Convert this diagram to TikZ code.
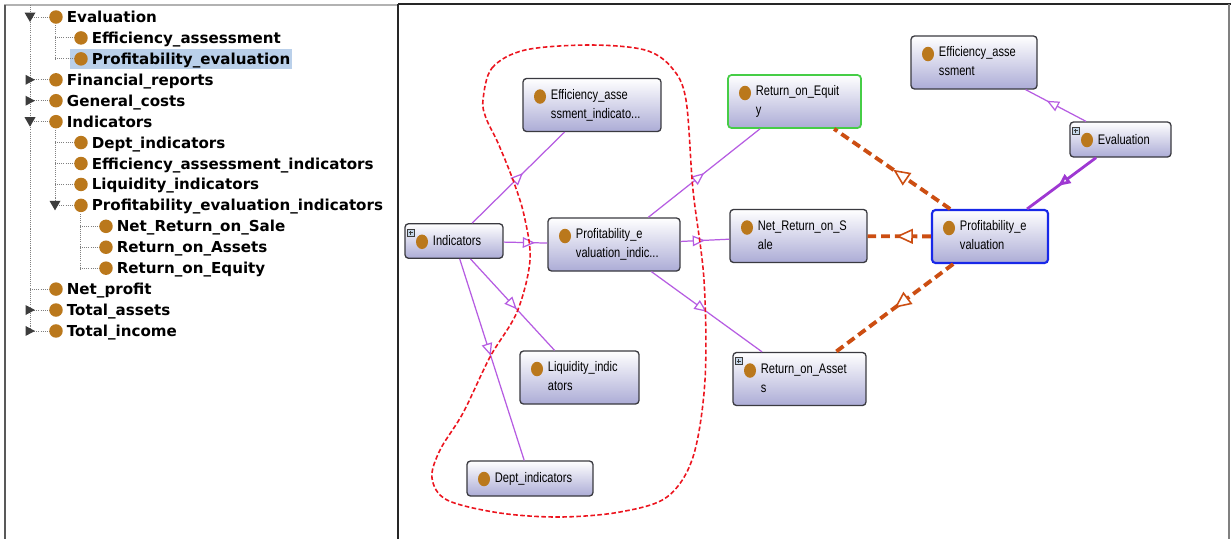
\documentclass[tikz,border=0pt]{standalone}
\usepackage{fontspec}
\setmainfont{Liberation Sans}
\newfontfamily\treefont{DejaVu Sans}
\newfontfamily\graffont[FakeStretch=0.8]{Liberation Sans}
\usetikzlibrary{arrows.meta,decorations.markings}

\definecolor{dotbrown}{RGB}{186,120,28}
\definecolor{boxlav}{RGB}{172,172,214}
\definecolor{boxedge}{RGB}{58,58,64}
\definecolor{isapurple}{RGB}{182,92,226}
\definecolor{evalpurple}{RGB}{158,56,210}
\definecolor{relorange}{RGB}{204,78,18}
\definecolor{selblue}{RGB}{186,208,234}
\definecolor{roegreen}{RGB}{70,205,70}
\definecolor{peblue}{RGB}{24,40,232}
\definecolor{groupred}{RGB}{236,20,30}
\definecolor{treegray}{RGB}{60,60,60}
\definecolor{plusfill}{RGB}{196,214,232}

% labels of the graph boxes
\newcommand\lbl[2]{\hspace*{15.9pt}\begin{tabular}{@{}l@{}}#1\\#2\end{tabular}}
\newcommand\lbll[1]{\hspace*{15.9pt}#1}
% small expand sign in the corner of a box
\newcommand\plusicon[1]{%
  \draw[plusbox] ([shift={(3,6)}]#1.north west) rectangle ++(7,7);
  \draw[treegray, line width=0.5pt] ([shift={(4.5,9.5)}]#1.north west) -- ++(4,0);
  \draw[treegray, line width=0.5pt] ([shift={(6.5,7.5)}]#1.north west) -- ++(0,4);}

\tikzset{
  cls/.style={draw=boxedge, line width=0.75pt, rounded corners=2pt,
    top color=white, bottom color=boxlav, inner sep=0pt,
    text width=#1, align=left, minimum height=1.06cm,
    font=\graffont\fontsize{7.9}{10.8}\selectfont,
    path picture={\fill[dotbrown] ([shift={(17,18)}]path picture bounding box.north west)
      ellipse [x radius=0.12cm, y radius=0.145cm];}},
  isa/.style={draw=isapurple, line width=0.7pt, postaction={decorate},
    decoration={markings, mark=at position #1 with
      {\arrow{Triangle[open, fill=white, length=7pt, width=6pt]}}}},
  isa/.default=0.5,
  rel/.style={draw=relorange, line width=2.2pt, dash pattern=on 5pt off 2.8pt,
    postaction={decorate},
    decoration={markings, mark=at position #1 with
      {\arrow{Triangle[open, fill=white, length=9.5pt, width=8.5pt, line width=0.9pt]}}}},
  rel/.default=0.5,
  groupline/.style={draw=groupred, line width=0.9pt, dash pattern=on 2.6pt off 1.4pt},
  treeline/.style={draw=gray, line width=0.5pt, dash pattern=on 0.6pt off 0.6pt},
  treetext/.style={anchor=base west, inner sep=0pt,
    font=\treefont\bfseries\fontsize{8.6}{10}\selectfont},
  plusbox/.style={draw=treegray, fill=plusfill, line width=0.5pt}
}

\begin{document}
\begin{tikzpicture}[x=0.02cm, y=-0.02cm]
\useasboundingbox (0,0) rectangle (1231,539);
\fill[white] (0,0) rectangle (1231,539);

% panel frames
\draw[gray!60, line width=0.6pt] (4,5) -- (398,5);
\draw[gray!70!black, line width=0.9pt] (5,5) -- (5,539);
\draw[black!85, line width=1.2pt] (398,4) -- (1231,4);
\draw[black!85, line width=1.5pt] (398,4) -- (398,539);
\draw[gray, line width=0.6pt] (1229,4) -- (1229,539);

% class tree
\fill[selblue] (70,49) rectangle (292,69);
\draw[treeline] (30,5) -- (30,332);
\draw[treeline] (55,25) -- (55,59);
\draw[treeline] (55,130) -- (55,206);
\draw[treeline] (80,214) -- (80,269);
\foreach \i/\lev/\tog/\txt in {0/0/1/Evaluation, 1/1/0/Efficiency\_assessment,
    2/1/0/Profitability\_evaluation, 3/0/2/Financial\_reports, 4/0/2/General\_costs,
    5/0/1/Indicators, 6/1/0/Dept\_indicators, 7/1/0/Efficiency\_assessment\_indicators,
    8/1/0/Liquidity\_indicators, 9/1/1/Profitability\_evaluation\_indicators,
    10/2/0/Net\_Return\_on\_Sale, 11/2/0/Return\_on\_Assets, 12/2/0/Return\_on\_Equity,
    13/0/0/Net\_profit, 14/0/2/Total\_assets, 15/0/2/Total\_income} {
  \pgfmathsetmacro\ty{17+20.93*\i}
  \pgfmathsetmacro\tx{30+25*\lev}
  \draw[treeline] (\tx,\ty) -- (\tx+19,\ty);
  \ifnum\tog=1 \fill[treegray] (\tx-5.5,\ty-4.5) -- (\tx+5.5,\ty-4.5) -- (\tx,\ty+5) -- cycle; \fi
  \ifnum\tog=2 \fill[treegray] (\tx-4.5,\ty-5) -- (\tx+5,\ty) -- (\tx-4.5,\ty+5) -- cycle; \fi
  \fill[dotbrown] (\tx+26,\ty) circle [radius=0.135cm];
  \node[treetext] (t\i) at (\tx+36.5,\ty+5.5) {\txt};
}

% graph boxes
\node[cls=2.76cm] (effind) at (592,105) {\lbl{Efficiency\_asse}{ssment\_indicato...}};
\node[cls=1.96cm, minimum height=0.69cm] (ind) at (454,241) {\lbll{Indicators}};
\node[cls=2.64cm] (pei) at (614,244.5) {\lbl{Profitability\_e}{valuation\_indic...}};
\node[cls=2.66cm, draw=roegreen, line width=1pt] (roe) at (794.5,101.5) {\lbl{Return\_on\_Equit}{y}};
\node[cls=2.74cm] (nrs) at (798.5,236) {\lbl{Net\_Return\_on\_S}{ale}};
\node[cls=2.52cm] (effass) at (974,62.5) {\lbl{Efficiency\_asse}{ssment}};
\node[cls=2.02cm, minimum height=0.7cm] (eval) at (1120.5,139.5) {\lbll{Evaluation}};
\node[cls=2.32cm, draw=peblue, line width=1.2pt] (pe) at (990,236.5) {\lbl{Profitability\_e}{valuation}};
\node[cls=2.38cm] (liq) at (579.5,377.5) {\lbl{Liquidity\_indic}{ators}};
\node[cls=2.66cm] (roa) at (799.5,379) {\lbl{Return\_on\_Asset}{s}};
\node[cls=2.52cm, minimum height=0.7cm] (dept) at (530,478.5) {\lbll{Dept\_indicators}};
\plusicon{ind}
\plusicon{eval}
\plusicon{roa}

% subclass links
\draw[isa=0.55] (ind) -- (effind);
\draw[isa=0.72] (ind) -- (pei);
\draw[isa=0.55] (ind) -- (liq);
\draw[isa=0.48] (ind) -- (dept);
\draw[isa] (pei) -- (roe);
\draw[isa] (pei) -- (nrs);
\draw[isa] (pei) -- (roa);
\draw[isa=0.65] (eval) -- (effass);
\draw[isa=0.55, draw=evalpurple, line width=1.6pt] (eval) -- (pe);

% property links
\draw[rel=0.49] (pe) -- (roe);
\draw[rel=0.55] (pe) -- (nrs);
\draw[rel] (pe) -- (roa);

% group outline
\draw[groupline] plot[smooth cycle, tension=0.55] coordinates {
  (483,100) (492,68) (525,50) (590,45) (645,50) (672,68) (686,100) (693,190)
  (704,280) (705,380) (693,457) (667,497) (620,512) (560,517) (500,513) (447,500)
  (432,478) (440,450) (463,413) (490,357) (517,312) (530,260) (524,215) (513,180)
  (498,143) (486,118)};
\end{tikzpicture}
\end{document}
